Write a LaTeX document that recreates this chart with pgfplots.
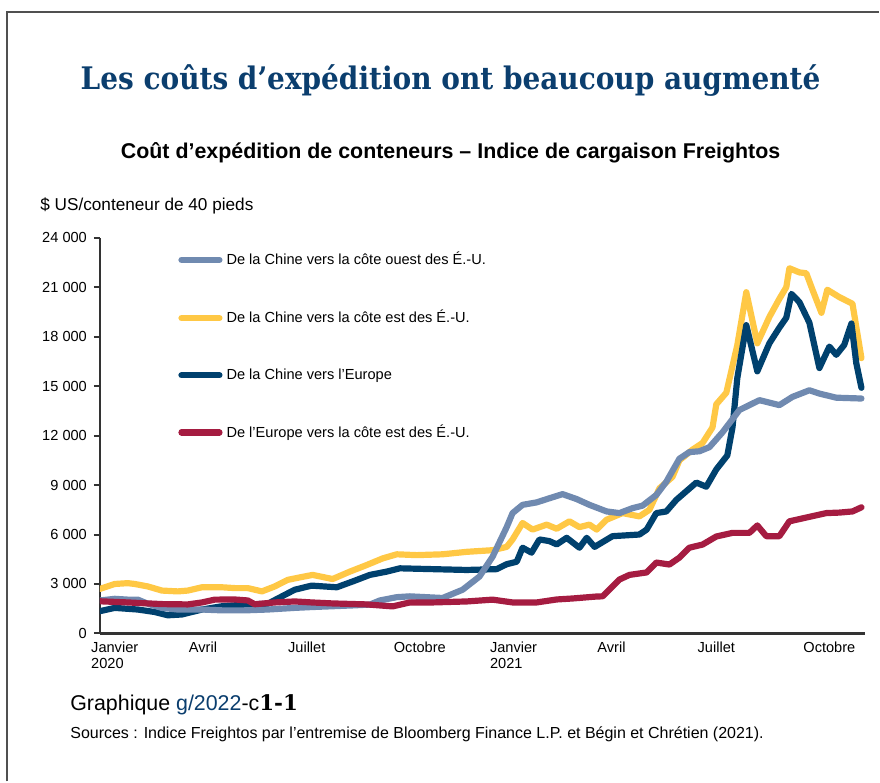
\documentclass[border=0pt]{standalone}
\usepackage{pgfplots}
\pgfplotsset{compat=1.18}
\usepackage{fontspec}
\setmainfont{Liberation Sans}
\newfontfamily\titlefont{DejaVu Serif Condensed}
\newfontfamily\numfont{DejaVu Serif}
\definecolor{cLB}{RGB}{112,138,176}
\definecolor{cYE}{RGB}{255,200,69}
\definecolor{cDB}{RGB}{0,65,110}
\definecolor{cRE}{RGB}{165,28,65}
\definecolor{cTitle}{RGB}{11,62,110}
\definecolor{cFrame}{RGB}{80,80,80}
\begin{document}
\begin{tikzpicture}
\path (0pt,0pt) rectangle (440pt,391pt);
\draw[cFrame, line width=0.8pt] (3.5pt,0pt) -- (3.5pt,385pt) -- (440pt,385pt);
\node[text=cTitle, font=\titlefont\bfseries\fontsize{15.55}{18}\selectfont] at (225.5pt,350.5pt) {Les coûts d’expédition ont beaucoup augmenté};
\node[font=\bfseries\fontsize{10.7}{13}\selectfont] at (225.5pt,314.5pt) {Coût d’expédition de conteneurs – Indice de cargaison Freightos};
\node[anchor=west, inner sep=0pt, font=\fontsize{8.6}{10}\selectfont] at (20pt,288pt) {\$ US/conteneur de 40 pieds};
\node[anchor=west, inner sep=0pt, font=\fontsize{10.7}{13}\selectfont] at (35pt,38.5pt) {Graphique \textcolor{cTitle}{g/2022}-c{\numfont\bfseries 1-1}};
\node[anchor=west, inner sep=0pt, font=\fontsize{8}{10}\selectfont] at (35pt,23.5pt) {Sources : Indice Freightos par l’entremise de Bloomberg Finance L.P. et Bégin et Chrétien (2021).};
\begin{axis}[
  at={(50pt,74pt)}, anchor=south west,
  width=383pt, height=198pt, scale only axis,
  xmin=0, xmax=22.2, ymin=0, ymax=24000,
  axis x line*=bottom, axis y line*=left,
  x axis line style={line width=1.2pt, draw=black!80},
  y axis line style={line width=1pt, draw=black!80},
  ytick={0,3000,...,24000},
  yticklabel style={/pgf/number format/.cd, 1000 sep={\ }, assume math mode=true},
  scaled y ticks=false,
  tick align=outside, major tick length=3pt,
  y tick style={line width=1pt, draw=black!80},
  x tick style={draw=none},
  xtick={0.43,2.99,6.0,9.28,12.0,14.84,17.88,21.16},
  xticklabels={Janvier\\2020,Avril,Juillet,Octobre,Janvier\\2021,Avril,Juillet,Octobre},
  xticklabel style={align=left, anchor=north, yshift=2.5pt},
  tick label style={font=\fontsize{7.3}{8}\selectfont},
  every axis plot/.append style={line width=3.1pt, line cap=round, line join=round, no markers},
  legend style={at={(0.102,0.975)}, anchor=north west, draw=none, fill=none,
    font=\fontsize{7.3}{9}\selectfont, row sep=17.3pt, inner sep=0pt, cells={anchor=west}},
  legend image code/.code={\draw[#1] (0pt,0pt) -- (19pt,0pt);},
]
\addlegendimage{cLB, line width=3.1pt, line cap=round}
\addlegendentry{De la Chine vers la côte ouest des É.-U.}
\addlegendimage{cYE, line width=3.1pt, line cap=round}
\addlegendentry{De la Chine vers la côte est des É.-U.}
\addlegendimage{cDB, line width=3.1pt, line cap=round}
\addlegendentry{De la Chine vers l'Europe}
\addlegendimage{cRE, line width=3.1pt, line cap=round}
\addlegendentry{De l’Europe vers la côte est des É.-U.}
% China -> US East coast
\addplot[cYE, forget plot] coordinates {
(0,2700)(0.43,3000)(0.81,3050)(1.01,3000)(1.39,2850)(1.80,2600)(2.26,2550)(2.55,2600)(2.96,2800)(3.54,2800)(3.91,2750)(4.29,2750)(4.70,2550)(5.07,2850)(5.45,3250)(5.80,3400)(6.17,3550)(6.75,3300)(7.25,3750)(7.74,4150)(8.20,4550)(8.61,4800)(9.19,4750)(9.94,4800)(10.64,4950)(11.39,5050)(11.80,5250)(11.97,5700)(12.26,6700)(12.55,6300)(12.96,6600)(13.25,6350)(13.62,6800)(13.91,6450)(14.20,6600)(14.41,6300)(14.70,6900)(15.16,7300)(15.65,7100)(15.94,7500)(16.23,8800)(16.61,9500)(16.81,10500)(17.19,11150)(17.48,11550)(17.77,12500)(17.88,13900)(18.17,14600)(18.49,17500)(18.75,20700)(19.07,17600)(19.42,19200)(19.71,20300)(19.91,21000)(20.00,22150)(20.29,21900)(20.49,21850)(20.67,20850)(20.93,19450)(21.10,20850)(21.45,20400)(21.83,20000)(22.09,16700)
};
% China -> Europe
\addplot[cDB, forget plot] coordinates {
(0,1350)(0.43,1550)(1.10,1450)(1.59,1300)(1.97,1100)(2.38,1150)(2.96,1450)(3.54,1650)(4.20,1750)(4.87,1800)(5.28,2250)(5.65,2650)(6.14,2900)(6.87,2800)(7.33,3150)(7.83,3550)(8.32,3750)(8.70,3950)(9.65,3900)(10.64,3850)(11.51,3900)(11.80,4200)(12.09,4350)(12.26,5200)(12.52,4900)(12.75,5700)(13.04,5600)(13.25,5400)(13.54,5800)(13.91,5200)(14.12,5800)(14.35,5250)(14.87,5900)(15.65,6000)(15.86,6300)(16.14,7300)(16.43,7400)(16.72,8100)(17.30,9150)(17.59,8900)(17.88,9950)(18.20,10800)(18.35,12500)(18.49,15500)(18.75,18700)(19.07,15900)(19.42,17600)(19.71,18550)(19.91,19150)(20.06,20600)(20.29,20100)(20.58,18850)(20.87,16100)(21.16,17400)(21.36,16900)(21.59,17500)(21.80,18800)(21.94,16400)(22.09,14900)
};
% China -> US West coast
\addplot[cLB, forget plot] coordinates {
(0,2000)(0.43,2100)(0.81,2050)(1.10,2050)(1.39,1800)(1.80,1550)(2.26,1450)(2.96,1450)(3.54,1400)(4.20,1400)(4.87,1450)(5.65,1550)(6.14,1600)(6.75,1650)(7.33,1700)(7.83,1750)(8.12,2000)(8.61,2200)(8.99,2250)(9.94,2150)(10.52,2650)(11.01,3450)(11.39,4650)(11.80,6450)(11.97,7300)(12.26,7800)(12.67,7950)(13.04,8200)(13.42,8450)(13.83,8150)(14.20,7800)(14.70,7400)(15.07,7300)(15.45,7600)(15.74,7750)(16.14,8400)(16.43,9200)(16.81,10600)(17.10,11000)(17.39,11050)(17.68,11300)(18.06,12200)(18.35,13000)(18.55,13550)(18.84,13850)(19.13,14150)(19.71,13850)(20.09,14350)(20.58,14750)(20.87,14550)(21.36,14300)(22.09,14250)
};
% Europe -> US East coast
\addplot[cRE, forget plot] coordinates {
(0,1950)(0.81,1880)(1.80,1780)(2.55,1760)(2.96,1880)(3.33,2050)(3.91,2060)(4.29,2000)(4.49,1770)(5.07,1880)(5.65,1940)(6.14,1880)(6.75,1820)(7.74,1760)(8.49,1640)(8.99,1880)(9.65,1880)(10.64,1940)(11.39,2050)(11.97,1880)(12.67,1880)(13.25,2060)(13.71,2120)(14.41,2240)(14.58,2250)(15.07,3270)(15.36,3550)(15.86,3700)(16.14,4300)(16.52,4180)(16.81,4600)(17.10,5200)(17.48,5390)(17.88,5880)(18.35,6100)(18.84,6100)(19.07,6550)(19.33,5900)(19.71,5900)(20.00,6800)(20.49,7030)(21.07,7300)(21.45,7330)(21.83,7400)(22.09,7650)
};
\end{axis}
\end{tikzpicture}
\end{document}
